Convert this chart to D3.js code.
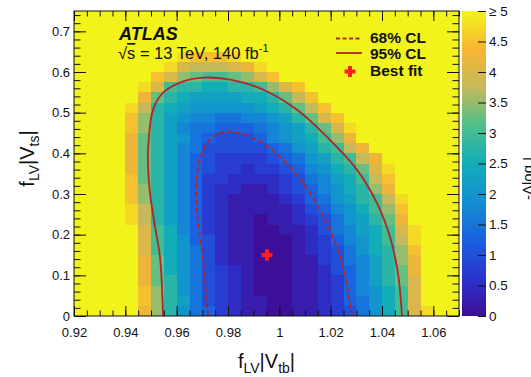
<!DOCTYPE html>
<html>
<head>
<meta charset="utf-8">
<script src="https://cdn.jsdelivr.net/npm/d3@7"></script>
<style>
  body { margin: 0; background: #fff; }
  text { font-family: "Liberation Sans", Arial, sans-serif; fill: #111; }
</style>
</head>
<body>
<svg id="chart" width="531" height="377"></svg>
<script>
// -Δlog L, 30x30 bins, first row is y = 0..0.025
// one char per bin = value*4 in base 36 ("k" means 5 or more)
const nllRows = [
  "kkkkkheb8653211001123468acgjkk",
  "kkkkkieb9643211001123568acgkkk",
  "kkkkkieb8643210001123578acgkkk",
  "kkkkkhdb8643210001123579bdgkkk",
  "kkkkkhda8643210001124579bdhkkk",
  "kkkkkhda8642110001134679behkkk",
  "kkkkkgca864211000123468abeikkk",
  "kkkkkgca854211000123578acfjkkk",
  "kkkkkgca753211001124679acgjkkk",
  "kkkkjfb9753211011234689bdhkkkk",
  "kkkkjfb975321111124578aceikkkk",
  "kkkkieb975321111235689bcfjkkkk",
  "kkkkieb97532211234578abehkkkkk",
  "kkkkidb97533222234679acfikkkkk",
  "kkkkhdb9754332334578abdgjkkkkk",
  "kkkkhdb9754333345689bcfhkkkkkk",
  "kkkkhdb976444445689bcfhkkkkkkk",
  "kkkkhdb98654445789acehkkkkkkkk",
  "kkkkieb97665556789bdgjkkkkkkkk",
  "kkkkieb9877667789bdgikkkkkkkkk",
  "kkkkjfba9888889abdfikkkkkkkkkk",
  "kkkkkhdba9999aabdfikkkkkkkkkkk",
  "kkkkkjgcbbaabbcegikkkkkkkkkkkk",
  "kkkkkkigedccdegikkkkkkkkkkkkkk",
  "kkkkkkkjgfffghjkkkkkkkkkkkkkkk",
  "kkkkkkkkjiiijkkkkkkkkkkkkkkkkk",
  "kkkkkkkkkkkkkkkkkkkkkkkkkkkkkk",
  "kkkkkkkkkkkkkkkkkkkkkkkkkkkkkk",
  "kkkkkkkkkkkkkkkkkkkkkkkkkkkkkk",
  "kkkkkkkkkkkkkkkkkkkkkkkkkkkkkk"
];
const xBinStart = 0.92, xBinWidth = 0.005;
const yBinStart = 0, yBinWidth = 0.025;

// contours [f|Vtb|, f|Vts|]
const cl68 = [[0.9722,0],[0.9703,0.138],[0.9691,0.195],[0.9679,0.261],[0.9679,0.342],
  [0.9699,0.401],[0.9741,0.441],[0.9808,0.453],[0.9913,0.433],[1.0002,0.392],
  [1.0092,0.328],[1.0158,0.261],[1.0209,0.195],[1.0248,0.121],[1.0283,0]];
const cl95 = [[0.9547,0],[0.9535,0.145],[0.9516,0.219],[0.9496,0.303],[0.9488,0.384],
  [0.9492,0.441],[0.9508,0.507],[0.9547,0.549],[0.9613,0.574],[0.9703,0.586],
  [0.9808,0.581],[0.9936,0.557],[1.0069,0.507],[1.0197,0.433],[1.0302,0.360],
  [1.0380,0.278],[1.0431,0.195],[1.0462,0.106],[1.0478,0]];
const bestFit = [0.9952, 0.150];

const xTicks = [0.92, 0.94, 0.96, 0.98, 1.0, 1.02, 1.04, 1.06];
const xTickLabels = ["0.92", "0.94", "0.96", "0.98", "1", "1.02", "1.04", "1.06"];
const yTicks = [0, 0.1, 0.2, 0.3, 0.4, 0.5, 0.6, 0.7];
const yTickLabels = ["0", "0.1", "0.2", "0.3", "0.4", "0.5", "0.6", "0.7"];
const zTicks = [0, 0.5, 1, 1.5, 2, 2.5, 3, 3.5, 4, 4.5, 5];
const zTickLabels = ["0", "0.5", "1", "1.5", "2", "2.5", "3", "3.5", "4", "4.5", "≥ 5"];
const legendLabels = ["68% CL", "95% CL", "Best fit"];

// layout
const L = 74, R = 459, T = 11, B = 316;
const lineRed = "#b0262a", crossRed = "#ff1e1e";

const svg = d3.select("#chart");

const x = d3.scaleLinear().domain([0.92, 1.07]).range([L, R]);
const y = d3.scaleLinear().domain([0, 0.75]).range([B, T]);
const z = d3.scaleLinear().domain([0, 5]).range([B, T]);

const color = d3.scaleLinear()
  .domain([0, 0.625, 1.25, 1.875, 2.5, 3.125, 3.75, 4.375, 5])
  .range(["#3d0e98", "#2b33cf", "#1a62df", "#128fd2", "#12adb8", "#4ec08a", "#c6b95c", "#f7b532", "#f3f31c"])
  .clamp(true);

// cells
const cells = [];
nllRows.forEach((row, j) => {
  [...row.padEnd(30, "k").slice(0, 30)].forEach((ch, i) => {
    cells.push({
      x0: xBinStart + i * xBinWidth,
      y0: yBinStart + j * yBinWidth,
      v: parseInt(ch, 36) / 4
    });
  });
});

svg.append("g")
  .selectAll("rect")
  .data(cells)
  .join("rect")
  .attr("x", d => x(d.x0))
  .attr("y", d => y(d.y0 + yBinWidth))
  .attr("width", d => x(d.x0 + xBinWidth) - x(d.x0))
  .attr("height", d => y(d.y0) - y(d.y0 + yBinWidth))
  .attr("fill", d => color(d.v))
  .attr("shape-rendering", "crispEdges");

// contours
svg.append("clipPath").attr("id", "plotclip")
  .append("rect").attr("x", L).attr("y", T).attr("width", R - L).attr("height", B - T);

const line = d3.line()
  .x(d => x(d[0]))
  .y(d => y(d[1]))
  .curve(d3.curveCatmullRom.alpha(0.5));

svg.append("path")
  .attr("d", line(cl95))
  .attr("clip-path", "url(#plotclip)")
  .attr("fill", "none")
  .attr("stroke", lineRed)
  .attr("stroke-width", 1.8);

svg.append("path")
  .attr("d", line(cl68))
  .attr("clip-path", "url(#plotclip)")
  .attr("fill", "none")
  .attr("stroke", lineRed)
  .attr("stroke-width", 1.8)
  .attr("stroke-dasharray", "5,3");

// best fit cross
const crossPath = "M-5.5,0H5.5M0,-5.5V5.5";
svg.append("path")
  .attr("transform", `translate(${x(bestFit[0])},${y(bestFit[1])})`)
  .attr("d", crossPath)
  .attr("stroke", crossRed)
  .attr("stroke-width", 4);

// frame
svg.append("rect")
  .attr("x", L).attr("y", T).attr("width", R - L).attr("height", B - T)
  .attr("fill", "none").attr("stroke", "#111").attr("stroke-width", 1);

// axes: ticks on all sides, pointing inwards
const xMinor = d3.range(0, 31).map(i => 0.92 + i * 0.005);
const yMinor = d3.range(0, 38).map(i => i * 0.02);

function styleAxis(g, size) {
  g.select(".domain").remove();
  g.attr("font-size", size).attr("font-family", '"Liberation Sans", Arial, sans-serif');
  g.selectAll("line").attr("stroke", "#111");
  g.selectAll("text").attr("fill", "#111");
}

svg.append("g").attr("transform", `translate(0,${B})`)
  .call(d3.axisBottom(x).tickValues(xTicks).tickFormat((d, i) => xTickLabels[i]).tickSize(-10).tickPadding(11.5))
  .call(g => styleAxis(g, 13));
svg.append("g").attr("transform", `translate(0,${B})`)
  .call(d3.axisBottom(x).tickValues(xMinor).tickFormat("").tickSize(-5.5))
  .call(g => styleAxis(g, 13));
svg.append("g").attr("transform", `translate(0,${T})`)
  .call(d3.axisTop(x).tickValues(xTicks).tickFormat("").tickSize(-10))
  .call(g => styleAxis(g, 13));
svg.append("g").attr("transform", `translate(0,${T})`)
  .call(d3.axisTop(x).tickValues(xMinor).tickFormat("").tickSize(-5.5))
  .call(g => styleAxis(g, 13));

svg.append("g").attr("transform", `translate(${L},0)`)
  .call(d3.axisLeft(y).tickValues(yTicks).tickFormat((d, i) => yTickLabels[i]).tickSize(-12).tickPadding(4))
  .call(g => styleAxis(g, 13));
svg.append("g").attr("transform", `translate(${L},0)`)
  .call(d3.axisLeft(y).tickValues(yMinor).tickFormat("").tickSize(-6.5))
  .call(g => styleAxis(g, 13));
svg.append("g").attr("transform", `translate(${R},0)`)
  .call(d3.axisRight(y).tickValues(yTicks).tickFormat("").tickSize(-12))
  .call(g => styleAxis(g, 13));
svg.append("g").attr("transform", `translate(${R},0)`)
  .call(d3.axisRight(y).tickValues(yMinor).tickFormat("").tickSize(-6.5))
  .call(g => styleAxis(g, 13));

// colour bar
const CL = 462, CR = 486;
const grad = svg.append("defs").append("linearGradient")
  .attr("id", "zgrad").attr("x1", 0).attr("y1", 1).attr("x2", 0).attr("y2", 0);
grad.selectAll("stop")
  .data(color.domain())
  .join("stop")
  .attr("offset", d => d / 5)
  .attr("stop-color", d => color(d));
svg.append("rect")
  .attr("x", CL).attr("y", T).attr("width", CR - CL).attr("height", B - T)
  .attr("fill", "url(#zgrad)");
svg.append("g").attr("transform", `translate(${CR},0)`)
  .call(d3.axisRight(z).tickValues(zTicks).tickFormat((d, i) => zTickLabels[i]).tickSize(-8).tickPadding(3))
  .call(g => styleAxis(g, 13.5));

// axis titles
const xTitle = svg.append("text")
  .attr("x", (L + R) / 2).attr("y", 368)
  .attr("text-anchor", "middle").attr("font-size", 20);
xTitle.append("tspan").text("f");
xTitle.append("tspan").attr("font-size", 14).attr("dy", 5).text("LV");
xTitle.append("tspan").attr("dy", -5).text("|V");
xTitle.append("tspan").attr("font-size", 14).attr("dy", 5).text("tb");
xTitle.append("tspan").attr("dy", -5).text("|");

const yTitle = svg.append("text")
  .attr("transform", `translate(34,${(T + B) / 2 - 5}) rotate(-90)`)
  .attr("text-anchor", "middle").attr("font-size", 20);
yTitle.append("tspan").text("f");
yTitle.append("tspan").attr("font-size", 14).attr("dy", 5).text("LV");
yTitle.append("tspan").attr("dy", -5).text("|V");
yTitle.append("tspan").attr("font-size", 14).attr("dy", 5).text("ts");
yTitle.append("tspan").attr("dy", -5).text("|");

// z title, partly outside the picture as in the original
svg.append("text")
  .attr("transform", "translate(533,200) rotate(-90)")
  .attr("font-size", 15)
  .text("-Δlog L");

// ATLAS label
svg.append("text")
  .attr("x", 119).attr("y", 40)
  .attr("font-size", 18).attr("font-weight", "bold").attr("font-style", "italic")
  .text("ATLAS");
const energy = svg.append("text").attr("x", 118).attr("y", 59).attr("font-size", 16.5);
energy.append("tspan").text("√");
energy.append("tspan").attr("text-decoration", "overline").text("s");
energy.append("tspan").text(" = 13 TeV, 140 fb");
energy.append("tspan").attr("font-size", 11).attr("dy", -7).text("-1");

// legend
const legY = [37.5, 53, 70];
svg.append("line")
  .attr("x1", 336).attr("x2", 362).attr("y1", legY[0] + 1).attr("y2", legY[0] + 1)
  .attr("stroke", lineRed).attr("stroke-width", 1.8).attr("stroke-dasharray", "4,2.5");
svg.append("line")
  .attr("x1", 336).attr("x2", 362).attr("y1", legY[1]).attr("y2", legY[1])
  .attr("stroke", lineRed).attr("stroke-width", 1.8);
svg.append("path")
  .attr("transform", `translate(350,${legY[2] + 1.5})`)
  .attr("d", crossPath)
  .attr("stroke", crossRed)
  .attr("stroke-width", 4);
svg.selectAll("text.leg")
  .data(legendLabels)
  .join("text")
  .attr("class", "leg")
  .attr("x", 370)
  .attr("y", (d, i) => legY[i] + 5.5)
  .attr("font-size", 15.5)
  .attr("font-weight", "bold")
  .text(d => d);
</script>
</body>
</html>
